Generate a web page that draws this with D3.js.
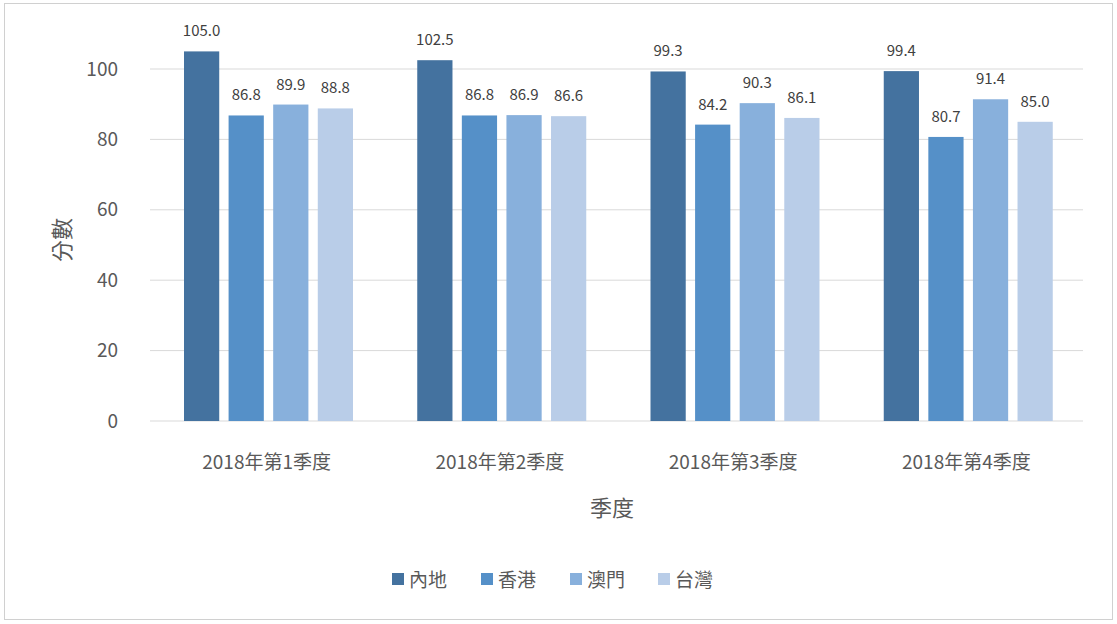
<!DOCTYPE html>
<html><head><meta charset="utf-8">
<script src="https://cdn.jsdelivr.net/npm/d3@7"></script>
<style>body{margin:0;background:#fff;font-family:"Noto Sans CJK TC","Noto Sans",sans-serif;}</style>
</head><body>
<script>
// Chart data
const quarters = ["2018年第1季度", "2018年第2季度", "2018年第3季度", "2018年第4季度"];
const regions = ["內地", "香港", "澳門", "台灣"];
const colors = ["#44729f", "#5590c8", "#88b0dc", "#b9cde8"];
const values = [
  [105.0, 86.8, 89.9, 88.8],
  [102.5, 86.8, 86.9, 86.6],
  [99.3, 84.2, 90.3, 86.1],
  [99.4, 80.7, 91.4, 85.0]
];
const yTicks = [0, 20, 40, 60, 80, 100];

const width = 1117, height = 624;
const svg = d3.select("body").append("svg").attr("width", width).attr("height", height);

svg.append("rect").attr("x", 4.5).attr("y", 3.5).attr("width", 1108).attr("height", 616)
  .style("fill", "none").style("stroke", "#d0d0d0");

const x0 = d3.scaleBand().domain(quarters).range([150, 1083]);
const x1 = d3.scaleBand().domain(regions).range([34, 203]).paddingInner(0.21);
const y = d3.scaleLinear().domain([0, 100]).range([421, 69]);

// Gridlines and y labels
yTicks.forEach((t) => {
  svg.append("line").attr("x1", 150).attr("x2", 1083).attr("y1", y(t)).attr("y2", y(t))
    .style("stroke", "#d9d9d9").style("stroke-width", 1);
  svg.append("text").attr("x", 118).attr("y", y(t)).attr("dy", "0.35em")
    .attr("text-anchor", "end").style("font-size", "19px").style("fill", "#595959").text(t);
});

// Bars
quarters.forEach((q, i) => {
  const g = svg.append("g").attr("transform", `translate(${x0(q)},0)`);
  regions.forEach((r, j) => {
    const v = values[i][j];
    g.append("rect").attr("x", x1(r)).attr("y", y(v)).attr("width", x1.bandwidth())
      .attr("height", y(0) - y(v)).style("fill", colors[j]);
    g.append("text").attr("x", x1(r) + x1.bandwidth() / 2).attr("y", y(v) - 15)
      .attr("text-anchor", "middle").style("font-size", "15px").style("fill", "#404040")
      .text(v.toFixed(1));
  });
  svg.append("text").attr("x", x0(q) + x0.bandwidth() / 2).attr("y", 462).attr("dy", "0.35em")
    .attr("text-anchor", "middle").style("font-size", "19px").style("fill", "#595959").text(q);
});

// Axis titles
svg.append("text").attr("x", 612).attr("y", 508).attr("dy", "0.35em").attr("text-anchor", "middle")
  .style("font-size", "22px").style("fill", "#595959").text("季度");
svg.append("text").attr("transform", "translate(62,240) rotate(-90)").attr("dy", "0.35em")
  .attr("text-anchor", "middle").style("font-size", "22px").style("fill", "#595959").text("分數");

// Legend
const legendX = [392, 481, 570, 658];
regions.forEach((r, j) => {
  svg.append("rect").attr("x", legendX[j]).attr("y", 573).attr("width", 12).attr("height", 12)
    .style("fill", colors[j]);
  svg.append("text").attr("x", legendX[j] + 17).attr("y", 580).attr("dy", "0.35em")
    .style("font-size", "19px").style("fill", "#595959").text(r);
});
</script>
</body></html>
